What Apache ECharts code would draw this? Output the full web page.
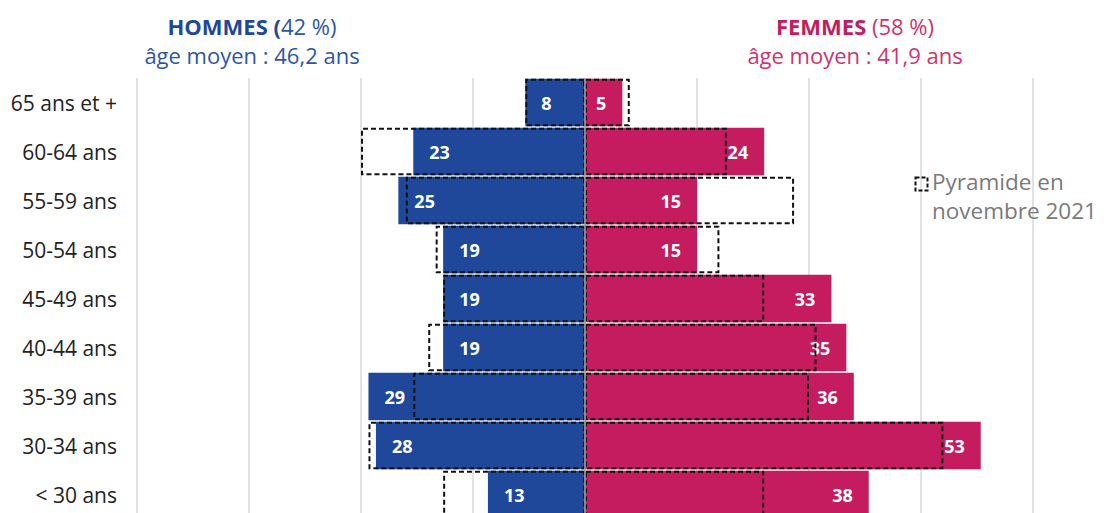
<!DOCTYPE html>
<html>
<head>
<meta charset="utf-8">
<script src="https://cdn.jsdelivr.net/npm/echarts@6/dist/echarts.min.js"></script>
<style>
html,body{margin:0;padding:0;background:#fff;}
#chart{width:1104px;height:513px;}
</style>
</head>
<body>
<div id="chart"></div>
<script>
// Data
const categories = ['65 ans et +', '60-64 ans', '55-59 ans', '50-54 ans', '45-49 ans', '40-44 ans', '35-39 ans', '30-34 ans', '< 30 ans'];
const hommes = [8, 23, 25, 19, 19, 19, 29, 28, 13];
const femmes = [5, 24, 15, 15, 33, 35, 36, 53, 38];
const hommes2021 = [8, 30, 24, 20, 19, 21, 23, 29, 19];
const femmes2021 = [6, 19, 28, 18, 24, 31, 30, 48, 24];
const legendText = 'Pyramide en\nnovembre 2021';

const FONT = '"Open Sans", "Noto Sans", sans-serif';
const BLUE = '#1f489b';
const PINK = '#c41c5f';

const chart = echarts.init(document.getElementById('chart'), null, {renderer: 'svg'});

const labelBase = {
  show: true,
  color: '#fff',
  fontWeight: 'bold',
  fontSize: 18,
  fontFamily: FONT,
  distance: 16,
  formatter: p => Math.abs(p.value)
};

const dashedStyle = {
  color: 'rgba(0,0,0,0)',
  borderColor: '#111',
  borderWidth: 2,
  borderType: [5, 3]
};

chart.setOption({
  animation: false,
  textStyle: {fontFamily: FONT},
  title: [
    {
      left: 252, top: 11, padding: 0, textAlign: 'center',
      text: '{b|HOMMES (}{r|42 %)}\n{s|âge moyen : 46,2 ans}',
      textStyle: {
        fontWeight: 'normal',
        rich: {
          b: {fontFamily: FONT, fontSize: 22, fontWeight: 'bold', color: BLUE, lineHeight: 29},
          r: {fontFamily: FONT, fontSize: 22, fontWeight: 'normal', color: '#2f56a3', lineHeight: 29},
          s: {fontFamily: FONT, fontSize: 22, fontWeight: 'normal', color: '#2f56a3', lineHeight: 29}
        }
      }
    },
    {
      left: 855, top: 11, padding: 0, textAlign: 'center',
      text: '{b|FEMMES }{r|(58 %)}\n{s|âge moyen : 41,9 ans}',
      textStyle: {
        fontWeight: 'normal',
        rich: {
          b: {fontFamily: FONT, fontSize: 22, fontWeight: 'bold', color: PINK, lineHeight: 29},
          r: {fontFamily: FONT, fontSize: 22, fontWeight: 'normal', color: '#cc3470', lineHeight: 29},
          s: {fontFamily: FONT, fontSize: 22, fontWeight: 'normal', color: '#cc3470', lineHeight: 29}
        }
      }
    }
  ],
  graphic: [
    {
      type: 'rect', left: 913, top: 175, z: 10,
      shape: {width: 12, height: 13},
      style: {fill: 'none', stroke: '#111', lineWidth: 2, lineDash: [4, 2]}
    },
    {
      type: 'text', left: 932, top: 167, z: 10,
      style: {text: legendText, fontFamily: FONT, fontSize: 22.5, lineHeight: 29, fill: '#7a7a7a'}
    }
  ],
  grid: {left: 137, right: 71, top: 78, height: 441, containLabel: false, outerBoundsMode: 'none'},
  xAxis: {
    type: 'value', min: -60, max: 60, interval: 15,
    axisLabel: {show: false},
    axisLine: {show: false},
    axisTick: {show: false},
    splitLine: {show: true, lineStyle: {color: '#e2e2e2', width: 2}}
  },
  yAxis: {
    type: 'category', data: categories, inverse: true,
    axisLine: {show: false},
    axisTick: {show: false},
    axisLabel: {margin: 20, fontSize: 21, color: '#222', fontFamily: FONT}
  },
  series: [
    {
      name: 'Hommes', type: 'bar', data: hommes.map(v => -v),
      barGap: '-100%', barCategoryGap: '3%', z: 2,
      itemStyle: {color: BLUE},
      label: Object.assign({}, labelBase, {position: 'insideLeft'})
    },
    {
      name: 'Femmes', type: 'bar', data: femmes,
      barGap: '-100%', barCategoryGap: '3%', z: 2,
      itemStyle: {color: PINK},
      label: Object.assign({}, labelBase, {position: 'insideRight'})
    },
    {
      name: legendText, type: 'bar', data: hommes2021.map(v => -v),
      barGap: '-100%', barCategoryGap: '3%', z: 3,
      itemStyle: dashedStyle
    },
    {
      name: legendText, type: 'bar', data: femmes2021,
      barGap: '-100%', barCategoryGap: '3%', z: 3,
      itemStyle: dashedStyle,
      markLine: {
        silent: true, symbol: 'none', z: 5,
        label: {show: false},
        lineStyle: {color: '#aaaaaa', type: 'solid', width: 1.5},
        data: [{xAxis: 0}]
      }
    }
  ]
});
</script>
</body>
</html>
